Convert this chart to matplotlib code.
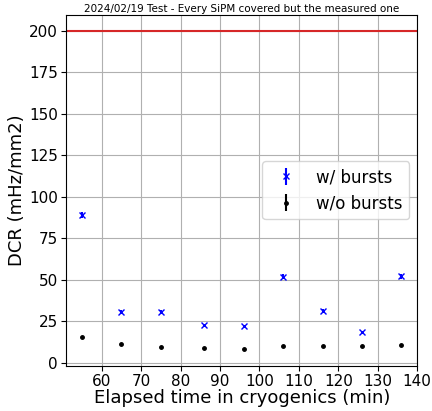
import numpy as np
import matplotlib.pyplot as plt

# elapsed time in cryogenics (min)
time_min = [55, 65, 75, 86, 96, 106, 116, 126, 136]

# dark count rate (mHz/mm2)
dcr_bursts = [89.0, 30.5, 30.5, 22.5, 22.0, 51.8, 31.0, 18.3, 52.2]
dcr_bursts_err = [1.8, 1.2, 1.2, 1.0, 1.0, 1.5, 1.2, 1.0, 1.5]
dcr_no_bursts = [15.5, 11.4, 9.5, 8.7, 8.2, 10.0, 10.0, 10.0, 11.0]
dcr_no_bursts_err = [0.5, 0.4, 0.4, 0.4, 0.4, 0.4, 0.4, 0.4, 0.4]

DCR_LIMIT = 200

fig = plt.figure(figsize=(4.32, 4.11), dpi=100)
ax = fig.add_subplot(111)
fig.subplots_adjust(left=0.153, right=0.966, top=0.964, bottom=0.11)

ax.errorbar(time_min, dcr_bursts, yerr=dcr_bursts_err, fmt='x', color='blue',
            markersize=5, label='w/ bursts')
ax.errorbar(time_min, dcr_no_bursts, yerr=dcr_no_bursts_err, fmt='.', color='black',
            markersize=5, label='w/o bursts')
ax.axhline(DCR_LIMIT, color='tab:red', linewidth=1.5)

ax.set_title('2024/02/19 Test - Every SiPM covered but the measured one',
             fontsize=7.5, pad=2)
ax.set_xlabel('Elapsed time in cryogenics (min)', fontsize=13, labelpad=0)
ax.set_ylabel('DCR (mHz/mm2)', fontsize=13, labelpad=2)
ax.tick_params(labelsize=11, pad=2.5)
ax.set_xticks(np.arange(60, 141, 10))
ax.grid(True)
ax.legend(loc='center right', fontsize=12)

plt.savefig('out.png', dpi=100)
